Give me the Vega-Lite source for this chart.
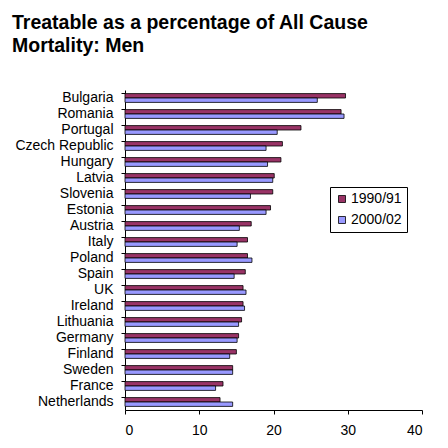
{
  "$schema": "https://vega.github.io/schema/vega-lite/v6.json",
  "width": 297,
  "height": 320,
  "autosize": {"type": "none"},
  "padding": {"left": 125, "top": 90, "right": 26, "bottom": 38},
  "background": "white",
  "title": {
    "text": ["Treatable as a percentage of All Cause", "Mortality: Men"],
    "anchor": "start",
    "frame": "group",
    "dx": -113,
    "offset": 34,
    "font": "Liberation Sans",
    "fontSize": 19.5,
    "fontWeight": "bold",
    "lineHeight": 23,
    "color": "black"
  },
  "data": {
    "values": [
      {"country": "Bulgaria", "year": "1990/91", "value": 29.7},
      {"country": "Bulgaria", "year": "2000/02", "value": 25.9},
      {"country": "Romania", "year": "1990/91", "value": 29.1},
      {"country": "Romania", "year": "2000/02", "value": 29.5},
      {"country": "Portugal", "year": "1990/91", "value": 23.7},
      {"country": "Portugal", "year": "2000/02", "value": 20.5},
      {"country": "Czech Republic", "year": "1990/91", "value": 21.2},
      {"country": "Czech Republic", "year": "2000/02", "value": 19.0},
      {"country": "Hungary", "year": "1990/91", "value": 21.0},
      {"country": "Hungary", "year": "2000/02", "value": 19.2},
      {"country": "Latvia", "year": "1990/91", "value": 20.1},
      {"country": "Latvia", "year": "2000/02", "value": 19.9},
      {"country": "Slovenia", "year": "1990/91", "value": 19.9},
      {"country": "Slovenia", "year": "2000/02", "value": 16.9},
      {"country": "Estonia", "year": "1990/91", "value": 19.6},
      {"country": "Estonia", "year": "2000/02", "value": 19.0},
      {"country": "Austria", "year": "1990/91", "value": 17.0},
      {"country": "Austria", "year": "2000/02", "value": 15.4},
      {"country": "Italy", "year": "1990/91", "value": 16.5},
      {"country": "Italy", "year": "2000/02", "value": 15.1},
      {"country": "Poland", "year": "1990/91", "value": 16.5},
      {"country": "Poland", "year": "2000/02", "value": 17.1},
      {"country": "Spain", "year": "1990/91", "value": 16.2},
      {"country": "Spain", "year": "2000/02", "value": 14.7},
      {"country": "UK", "year": "1990/91", "value": 15.9},
      {"country": "UK", "year": "2000/02", "value": 16.3},
      {"country": "Ireland", "year": "1990/91", "value": 15.9},
      {"country": "Ireland", "year": "2000/02", "value": 16.1},
      {"country": "Lithuania", "year": "1990/91", "value": 15.7},
      {"country": "Lithuania", "year": "2000/02", "value": 15.3},
      {"country": "Germany", "year": "1990/91", "value": 15.3},
      {"country": "Germany", "year": "2000/02", "value": 15.1},
      {"country": "Finland", "year": "1990/91", "value": 15.0},
      {"country": "Finland", "year": "2000/02", "value": 14.1},
      {"country": "Sweden", "year": "1990/91", "value": 14.5},
      {"country": "Sweden", "year": "2000/02", "value": 14.5},
      {"country": "France", "year": "1990/91", "value": 13.2},
      {"country": "France", "year": "2000/02", "value": 12.2},
      {"country": "Netherlands", "year": "1990/91", "value": 12.8},
      {"country": "Netherlands", "year": "2000/02", "value": 14.5}
    ]
  },
  "mark": {"type": "bar", "stroke": "black", "strokeWidth": 0.8},
  "encoding": {
    "y": {
      "field": "country",
      "type": "nominal",
      "sort": null,
      "scale": {"paddingInner": 0.45, "paddingOuter": 0.225},
      "axis": {
        "title": null,
        "bandPosition": 0,
        "tickSize": 4,
        "labelPadding": 8,
        "labelFont": "Liberation Sans",
        "labelFontSize": 14,
        "labelColor": "black",
        "domainColor": "black",
        "tickColor": "black",
        "grid": false
      }
    },
    "yOffset": {"field": "year", "type": "nominal"},
    "x": {
      "field": "value",
      "type": "quantitative",
      "scale": {"domain": [0, 40], "nice": false},
      "axis": {
        "title": null,
        "values": [0, 10, 20, 30, 40],
        "tickSize": 4,
        "labelPadding": 9,
        "labelFont": "Liberation Sans",
        "labelFontSize": 14,
        "labelColor": "black",
        "domainColor": "black",
        "tickColor": "black",
        "grid": false
      }
    },
    "color": {
      "field": "year",
      "type": "nominal",
      "scale": {"domain": ["1990/91", "2000/02"], "range": ["#993366", "#9999FF"]},
      "legend": {
        "title": null,
        "orient": "none",
        "legendX": 205,
        "legendY": 97,
        "symbolType": "square",
        "symbolSize": 49,
        "symbolStrokeColor": "black",
        "symbolStrokeWidth": 0.8,
        "symbolOpacity": 1,
        "labelFont": "Liberation Sans",
        "labelFontSize": 14,
        "labelColor": "black",
        "labelOffset": 2,
        "rowPadding": 7,
        "padding": 5,
        "strokeColor": "black",
        "fillColor": "white"
      }
    }
  },
  "config": {"view": {"stroke": null}}
}
